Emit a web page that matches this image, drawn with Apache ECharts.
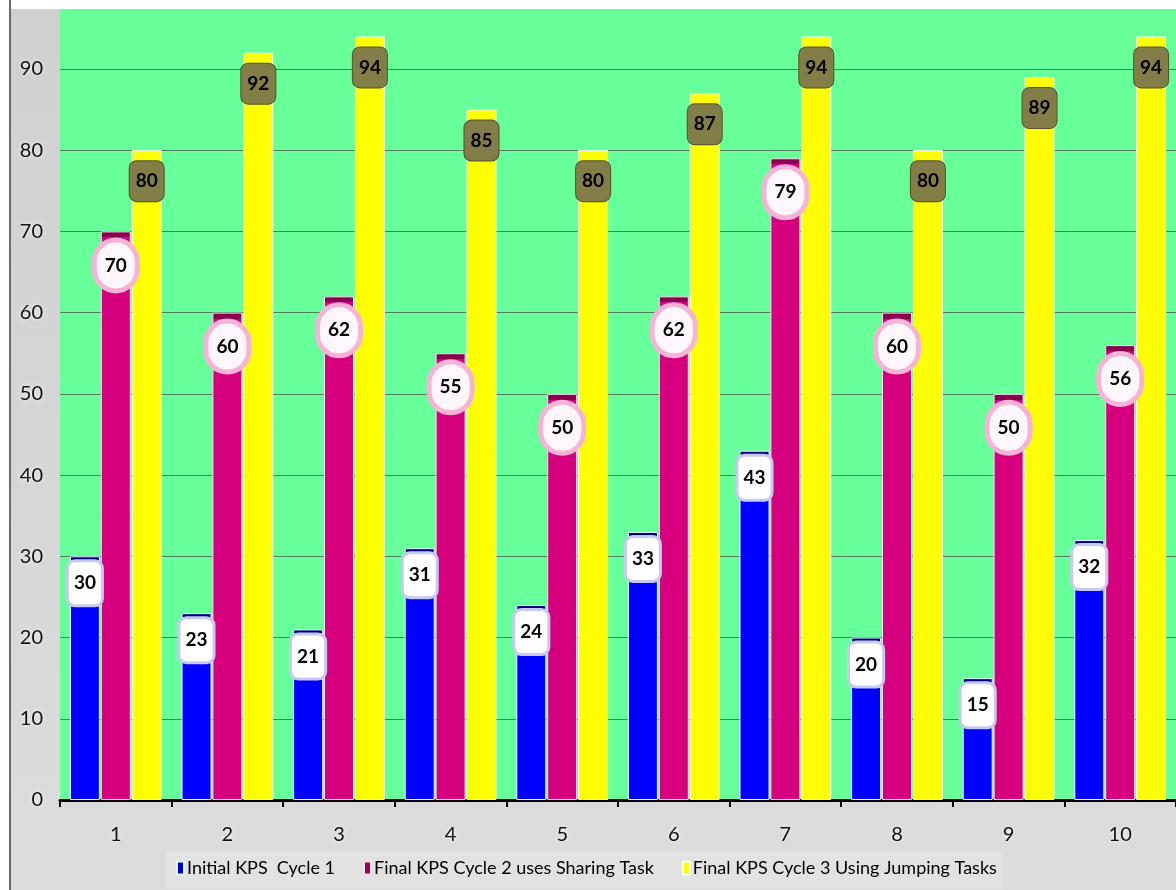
<!DOCTYPE html>
<html>
<head>
<meta charset="utf-8">
<script src="https://cdn.jsdelivr.net/npm/echarts@6/dist/echarts.min.js"></script>
<style>
  html, body { margin: 0; padding: 0; background: #fff; }
  #chart { width: 1176px; height: 890px; }
</style>
</head>
<body>
<div id="chart"></div>
<script>
const categories = ['1', '2', '3', '4', '5', '6', '7', '8', '9', '10']
const seriesNames = [
  'Initial KPS  Cycle 1',
  'Final KPS Cycle 2 uses Sharing Task',
  'Final KPS Cycle 3 Using Jumping Tasks'
]
const cycle1 = [30, 23, 21, 31, 24, 33, 43, 20, 15, 32]
const cycle2 = [70, 60, 62, 55, 50, 62, 79, 60, 50, 56]
const cycle3 = [80, 92, 94, 85, 80, 87, 94, 80, 89, 94]

const FONT = 'Lato, "Liberation Sans", sans-serif'
const Y_MAX = 97.5
const PX_PER_UNIT = 792 / Y_MAX

const chart = echarts.init(document.getElementById('chart'))

// dark strip on top of each bar (about 5px)
const capped = (main, dark) => params => {
  const h = params.value * PX_PER_UNIT
  const f = Math.min(6 / h, 0.5)
  return new echarts.graphic.LinearGradient(0, 0, 0, 1, [
    { offset: 0, color: dark },
    { offset: f, color: dark },
    { offset: f, color: main },
    { offset: 1, color: main }
  ])
}

const glow = { textShadowColor: '#fff', textShadowBlur: 4 }

const option = {
  backgroundColor: new echarts.graphic.LinearGradient(0, 0, 0, 1, [
    { offset: 0, color: '#d0d0d0' },
    { offset: 1, color: '#dcdcdc' }
  ]),
  animation: false,
  textStyle: { fontFamily: FONT },
  grid: {
    left: 60,
    right: 0,
    top: 8,
    bottom: 90,
    show: true,
    backgroundColor: '#66ff99',
    borderWidth: 0
  },
  legend: {
    data: [
      { name: seriesNames[0], itemStyle: { color: '#0000cc' } },
      { name: seriesNames[1], itemStyle: { color: '#99004f' } },
      { name: seriesNames[2], itemStyle: { color: '#ffff00' } }
    ],
    left: 166,
    top: 851,
    backgroundColor: '#e2e2e2',
    padding: [8, 6, 12, 10],
    itemWidth: 7,
    itemHeight: 13,
    itemGap: 28,
    icon: 'rect',
    textStyle: { fontFamily: FONT, fontSize: 18, color: '#000', padding: [0, 0, 0, -2] }
  },
  xAxis: {
    type: 'category',
    data: categories,
    axisLine: { lineStyle: { color: '#000', width: 3 } },
    axisTick: { show: true, length: 7, lineStyle: { color: '#000', width: 2 } },
    axisLabel: { fontFamily: FONT, fontSize: 20, color: '#111', margin: 25, ...glow }
  },
  yAxis: {
    type: 'value',
    min: 0,
    max: Y_MAX,
    interval: 10,
    axisLine: { show: false },
    axisTick: { show: false },
    axisLabel: { fontFamily: FONT, fontSize: 20, color: '#111', margin: 17, showMaxLabel: false, ...glow },
    splitLine: { lineStyle: { color: '#4f7f5c', width: 1 } }
  },
  series: [
    {
      name: seriesNames[0],
      type: 'bar',
      data: cycle1,
      barWidth: 30,
      barGap: '3%',
      itemStyle: { color: capped('#0000ff', '#000080'), borderColor: '#e6f5ff', borderWidth: 1 },
      label: {
        show: true,
        position: 'insideTop',
        distance: 6,
        fontFamily: FONT,
        fontSize: 19,
        fontWeight: 'bold',
        color: '#000',
        lineHeight: 20,
        backgroundColor: '#ffffff',
        borderColor: '#c8c8f4',
        borderWidth: 3,
        borderRadius: 6,
        padding: [11, 5]
      }
    },
    {
      name: seriesNames[1],
      type: 'bar',
      data: cycle2,
      barWidth: 30,
      barGap: '3%',
      itemStyle: { color: capped('#d6007f', '#8a004f'), borderColor: '#f0e0f0', borderWidth: 1 },
      label: {
        show: true,
        position: 'insideTop',
        distance: 11,
        fontFamily: FONT,
        fontSize: 19,
        fontWeight: 'bold',
        color: '#000',
        lineHeight: 20,
        backgroundColor: '#fff6fb',
        borderColor: '#f7b3d6',
        borderWidth: 5,
        borderRadius: 24,
        padding: [13, 8]
      }
    },
    {
      name: seriesNames[2],
      type: 'bar',
      data: cycle3,
      barWidth: 30,
      barGap: '3%',
      itemStyle: { color: '#ffff00', borderColor: '#f4fff4', borderWidth: 1 },
      label: {
        show: true,
        position: 'insideTop',
        distance: 11,
        fontFamily: FONT,
        fontSize: 19,
        fontWeight: 'bold',
        color: '#000',
        lineHeight: 20,
        backgroundColor: '#837d48',
        borderColor: '#56522c',
        borderWidth: 1,
        borderRadius: 7,
        padding: [10, 6]
      }
    }
  ],
  graphic: [
    { type: 'rect', left: 0, top: 0, shape: { width: 1176, height: 9 }, style: { fill: '#fff' }, z: 100 },
    { type: 'rect', left: 0, top: 0, shape: { width: 9, height: 890 }, style: { fill: '#fff' }, z: 100 },
    { type: 'rect', left: 9, top: 0, shape: { width: 2, height: 890 }, style: { fill: '#6a6a6a' }, z: 101 }
  ]
}

chart.setOption(option)
</script>
</body>
</html>
